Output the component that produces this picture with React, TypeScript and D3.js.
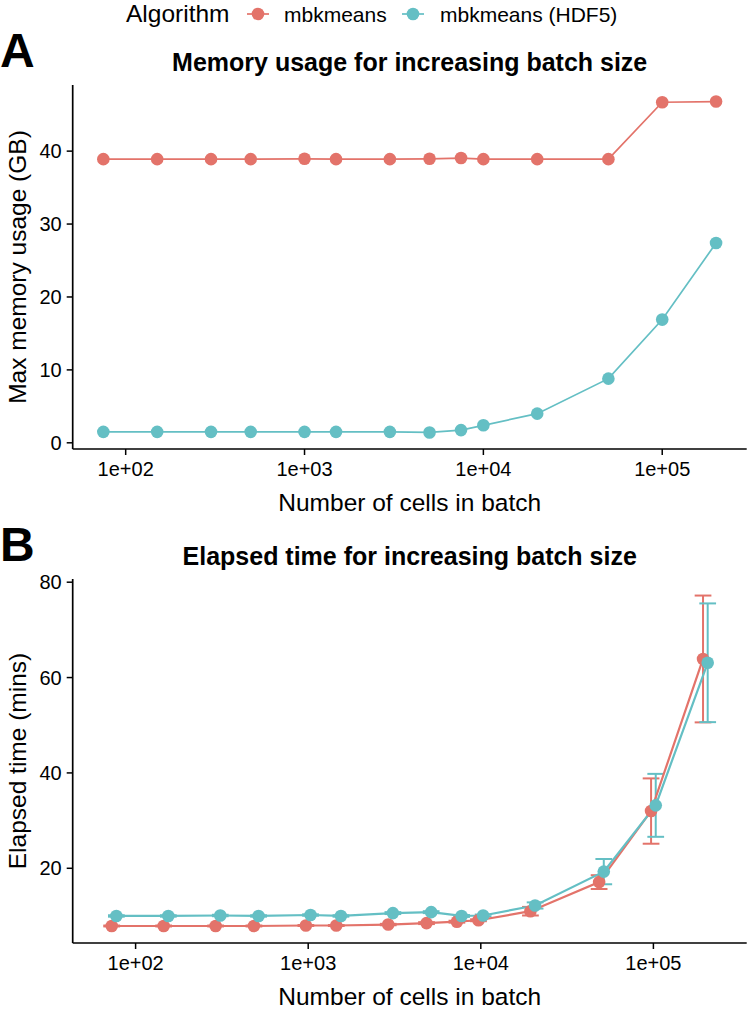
import React from "react";
import * as d3 from "d3";

// ---------- data ----------
const batchSizes = [75, 150, 300, 500, 1000, 1500, 3000, 5000, 7500, 10000, 20000, 50000, 100000, 200000];
const algorithms = ["mbkmeans", "mbkmeans (HDF5)"];

const memMbkmeans = [38.9, 38.9, 38.9, 38.9, 38.95, 38.9, 38.9, 38.95, 39.05, 38.9, 38.9, 38.9, 46.7, 46.8];
const memHdf5 = [1.5, 1.5, 1.5, 1.5, 1.5, 1.5, 1.5, 1.42, 1.74, 2.4, 4.0, 8.8, 16.9, 27.4];

const timeMbkmeans = [7.9, 7.9, 7.9, 7.9, 8.0, 8.0, 8.2, 8.5, 8.8, 9.1, 11.0, 17.1, 32.0, 63.9];
const timeMbkmeansSd = [0.1, 0.1, 0.1, 0.1, 0.1, 0.1, 0.15, 0.2, 0.2, 0.2, 0.9, 1.45, 6.85, 13.3];
const timeHdf5 = [10.0, 10.0, 10.1, 10.0, 10.2, 10.0, 10.6, 10.8, 10.0, 10.1, 12.2, 19.3, 33.2, 63.1];
const timeHdf5Sd = [0.15, 0.15, 0.15, 0.15, 0.15, 0.15, 0.2, 0.2, 0.2, 0.2, 0.65, 2.65, 6.6, 12.45];

const xTicks = [1e2, 1e3, 1e4, 1e5];
const xTickLabels = ["1e+02", "1e+03", "1e+04", "1e+05"];
const memTicks = [0, 10, 20, 30, 40];
const timeTicks = [20, 40, 60, 80];

// ---------- style ----------
const COLORS = ["#E3736A", "#64BFC4"];
const FONT = "'Liberation Sans', Arial, Helvetica, sans-serif";
const W = 750;
const H = 1011;
const LEFT = 72.7;
const RIGHT = 746.7;
const R = 6.3;

function expand(ext: [number, number], f = 0.05): [number, number] {
  const r = ext[1] - ext[0];
  return [ext[0] - r * f, ext[1] + r * f];
}

const logs = batchSizes.map((b) => Math.log10(b));

interface AxesProps {
  top: number;
  bottom: number;
  x: d3.ScaleLogarithmic<number, number>;
  y: d3.ScaleLinear<number, number>;
  yTicks: number[];
  title: string;
  ylab: string;
  tag: string;
  titleY: number;
  tagY: number;
  xlabY: number;
}

function Axes(p: AxesProps) {
  const cy = (p.top + p.bottom) / 2;
  const cx = (LEFT + RIGHT) / 2;
  return (
    <g fontFamily={FONT}>
      <text x={0} y={p.tagY} fontSize={48} fontWeight="bold">{p.tag}</text>
      <text x={cx} y={p.titleY} fontSize={25} fontWeight="bold" textAnchor="middle">{p.title}</text>
      <line x1={LEFT} x2={RIGHT} y1={p.bottom} y2={p.bottom} stroke="#000" strokeWidth={1.7} />
      <line x1={LEFT} x2={LEFT} y1={p.top} y2={p.bottom} stroke="#000" strokeWidth={1.7} />
      {xTicks.map((t, i) => (
        <g key={"x" + t}>
          <line x1={p.x(t)} x2={p.x(t)} y1={p.bottom} y2={p.bottom + 6} stroke="#000" strokeWidth={1.5} />
          <text x={p.x(t)} y={p.bottom + 27} fontSize={20} textAnchor="middle">{xTickLabels[i]}</text>
        </g>
      ))}
      {p.yTicks.map((t) => (
        <g key={"y" + t}>
          <line x1={LEFT - 6} x2={LEFT} y1={p.y(t)} y2={p.y(t)} stroke="#000" strokeWidth={1.5} />
          <text x={LEFT - 11} y={p.y(t) + 7} fontSize={20} textAnchor="end">{t}</text>
        </g>
      ))}
      <text x={cx} y={p.xlabY} fontSize={24.5} textAnchor="middle">Number of cells in batch</text>
      <text transform={`translate(26,${cy}) rotate(-90)`} fontSize={24.5} textAnchor="middle">{p.ylab}</text>
    </g>
  );
}

function PanelA() {
  const top = 85, bottom = 449;
  const xd = expand([d3.min(logs)!, d3.max(logs)!]);
  const x = d3.scaleLog().domain([10 ** xd[0], 10 ** xd[1]]).range([LEFT, RIGHT]);
  const all = memMbkmeans.concat(memHdf5);
  const yd = expand([d3.min(all)!, d3.max(all)!]);
  const y = d3.scaleLinear().domain(yd).range([bottom, top]);
  const series = [memMbkmeans, memHdf5];
  const line = d3.line<number>().x((_, i) => x(batchSizes[i])).y((v) => y(v));
  return (
    <g>
      <Axes top={top} bottom={bottom} x={x} y={y} yTicks={memTicks}
        title="Memory usage for increasing batch size" ylab="Max memory usage (GB)"
        tag="A" titleY={71} tagY={67} xlabY={511} />
      {series.map((s, k) => (
        <path key={"l" + k} d={line(s)!} fill="none" stroke={COLORS[k]} strokeWidth={1.7} />
      ))}
      {series.map((s, k) => (
        <g key={"p" + k}>
          {s.map((v, i) => (
            <circle key={i} cx={x(batchSizes[i])} cy={y(v)} r={R} fill={COLORS[k]} />
          ))}
        </g>
      ))}
    </g>
  );
}

function PanelB() {
  const off = 494;
  const top = 85 + off, bottom = 449 + off;
  const dodge = [-0.0135, 0.0135];
  const capHalf = 0.0485;
  const xd = expand([d3.min(logs)! + dodge[0] - capHalf, d3.max(logs)! + dodge[1] + capHalf]);
  const x = d3.scaleLog().domain([10 ** xd[0], 10 ** xd[1]]).range([LEFT, RIGHT]);
  const means = [timeMbkmeans, timeHdf5];
  const sds = [timeMbkmeansSd, timeHdf5Sd];
  const lows = means.flatMap((m, k) => m.map((v, i) => v - sds[k][i]));
  const highs = means.flatMap((m, k) => m.map((v, i) => v + sds[k][i]));
  const yd = expand([d3.min(lows)!, d3.max(highs)!]);
  const y = d3.scaleLinear().domain(yd).range([bottom, top]);
  const px = (i: number, k: number, d = 0) => x(10 ** (logs[i] + dodge[k] + d));
  return (
    <g>
      <Axes top={top} bottom={bottom} x={x} y={y} yTicks={timeTicks}
        title="Elapsed time for increasing batch size" ylab="Elapsed time (mins)"
        tag="B" titleY={71 + off} tagY={67 + off} xlabY={511 + off} />
      {means.map((m, k) => (
        <g key={"e" + k} stroke={COLORS[k]} strokeWidth={2} fill="none">
          {m.map((v, i) => {
            const lo = y(v - sds[k][i]);
            const hi = y(v + sds[k][i]);
            return (
              <g key={i}>
                <line x1={px(i, k)} x2={px(i, k)} y1={lo} y2={hi} />
                <line x1={px(i, k, -capHalf)} x2={px(i, k, capHalf)} y1={lo} y2={lo} />
                <line x1={px(i, k, -capHalf)} x2={px(i, k, capHalf)} y1={hi} y2={hi} />
              </g>
            );
          })}
        </g>
      ))}
      {means.map((m, k) => {
        const line = d3.line<number>().x((_, i) => px(i, k)).y((v) => y(v));
        return <path key={"l" + k} d={line(m)!} fill="none" stroke={COLORS[k]} strokeWidth={2.2} />;
      })}
      {means.map((m, k) => (
        <g key={"p" + k}>
          {m.map((v, i) => (
            <circle key={i} cx={px(i, k)} cy={y(v)} r={R} fill={COLORS[k]} />
          ))}
        </g>
      ))}
    </g>
  );
}

function Legend() {
  const keyX = [258, 413];
  const labelX = [284, 440];
  const cy = 14;
  return (
    <g fontFamily={FONT}>
      <text x={126} y={22} fontSize={24.5}>Algorithm</text>
      {algorithms.map((a, k) => (
        <g key={a}>
          <line x1={keyX[k] - 11} x2={keyX[k] + 11} y1={cy} y2={cy} stroke={COLORS[k]} strokeWidth={1.7} />
          <circle cx={keyX[k]} cy={cy} r={R} fill={COLORS[k]} />
          <text x={labelX[k]} y={22} fontSize={21}>{a}</text>
        </g>
      ))}
    </g>
  );
}

export default function App() {
  return (
    <div style={{ position: "absolute", left: 0, top: 0 }}>
      <svg width={W} height={H} viewBox={`0 0 ${W} ${H}`} style={{ display: "block", background: "#fff" }}>
        <rect width={W} height={H} fill="#fff" />
        <Legend />
        <PanelA />
        <PanelB />
      </svg>
    </div>
  );
}
